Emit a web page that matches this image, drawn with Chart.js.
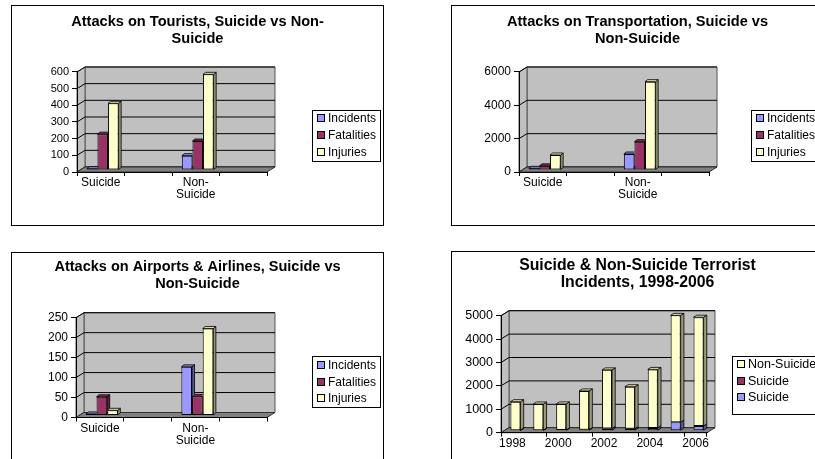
<!DOCTYPE html>
<html>
<head>
<meta charset="utf-8">
<script src="https://cdn.jsdelivr.net/npm/chart.js@4.4.1/dist/chart.umd.min.js"></script>
<style>
  html, body { margin: 0; padding: 0; background: #fff; width: 815px; height: 459px; overflow: hidden; }
  .panel { position: absolute; border: 1px solid #000; width: 371px; height: 219px; background: #fff; }
  .panel canvas { display: block; }
</style>
</head>
<body>
<div class="panel" style="left:11px;top:5px"><canvas id="tourists" width="371" height="219"></canvas></div>
<div class="panel" style="left:451px;top:5px"><canvas id="transport" width="371" height="219"></canvas></div>
<div class="panel" style="left:11px;top:252px"><canvas id="airports" width="371" height="219"></canvas></div>
<div class="panel" style="left:451px;top:251px"><canvas id="yearly" width="371" height="219"></canvas></div>
<script>
// ---- data ----
const pairCategories = ['Suicide', '', ['Non-', 'Suicide'], ''];
const seriesNames = ['Incidents', 'Fatalities', 'Injuries'];

const touristIncidents  = [8, null, 86, null];
const touristFatalities = [215, null, 174, null];
const touristInjuries   = [400, null, 574, null];

const transportIncidents  = [100, null, 960, null];
const transportFatalities = [250, null, 1700, null];
const transportInjuries   = [900, null, 5300, null];

const airportIncidents  = [4, null, 122, null];
const airportFatalities = [47, null, 48, null];
const airportInjuries   = [13, null, 218, null];

const years = ['1998', '1999', '2000', '2001', '2002', '2003', '2004', '2005', '2006'];
const yearSeriesNames = ['Suicide', 'Suicide', 'Non-Suicide'];
const suicideIncidents    = [15, 15, 25, 40, 90, 80, 120, 360, 200];
const suicideIncidentsAlt = [0, 0, 0, 0, 0, 0, 0, 0, 0];
const nonSuicideIncidents = [1225, 1125, 1120, 1660, 2510, 1800, 2500, 4570, 4650];

// ---- styling ----
const FONT = '"Liberation Sans", Arial, Helvetica, sans-serif';
const BLUE = '#9999FF', MAROON = '#993366', CREAM = '#FFFFCC';
Chart.defaults.font.family = FONT;
Chart.defaults.color = '#000';

function shade(hex, f) {
  const n = parseInt(hex.slice(1), 16);
  const r = Math.round(((n >> 16) & 255) * f);
  const g = Math.round(((n >> 8) & 255) * f);
  const b = Math.round((n & 255) * f);
  return 'rgb(' + r + ',' + g + ',' + b + ')';
}

function poly(ctx, pts) {
  ctx.beginPath();
  ctx.moveTo(pts[0][0], pts[0][1]);
  for (let i = 1; i < pts.length; i++) ctx.lineTo(pts[i][0], pts[i][1]);
  ctx.closePath();
}

// Walls, floor, bar depth faces and a boxed legend for a 3-D column look.
const box3d = {
  id: 'box3d',
  beforeDraw(chart, args, o) {
    const ctx = chart.ctx, a = chart.chartArea, ys = chart.scales.y;
    const dx = o.wall[0], dy = o.wall[1];
    ctx.save();
    ctx.lineWidth = 1;
    ctx.fillStyle = '#C0C0C0';
    ctx.strokeStyle = '#555';
    poly(ctx, [[a.left + dx, a.top + dy], [a.right + dx, a.top + dy], [a.right + dx, a.bottom + dy], [a.left + dx, a.bottom + dy]]);
    ctx.fill(); ctx.stroke();
    poly(ctx, [[a.left, a.top], [a.left + dx, a.top + dy], [a.left + dx, a.bottom + dy], [a.left, a.bottom]]);
    ctx.fill(); ctx.stroke();
    ctx.strokeStyle = '#000';
    ys.ticks.forEach(t => {
      const y = ys.getPixelForValue(t.value);
      ctx.beginPath();
      ctx.moveTo(a.left, y);
      ctx.lineTo(a.left + dx, y + dy);
      ctx.lineTo(a.right + dx, y + dy);
      ctx.stroke();
    });
    ctx.fillStyle = '#808080';
    ctx.strokeStyle = '#333';
    poly(ctx, [[a.left, a.bottom], [a.right, a.bottom], [a.right + dx, a.bottom + dy], [a.left + dx, a.bottom + dy]]);
    ctx.fill(); ctx.stroke();
    ctx.restore();
  },
  beforeDatasetsDraw(chart, args, o) {
    chart.ctx.save();
    chart.ctx.translate(o.shift[0], o.shift[1]);
  },
  afterDatasetDraw(chart, args, o) {
    const ctx = chart.ctx;
    const metas = chart.getSortedVisibleDatasetMetas();
    const pos = metas.indexOf(args.meta);
    const bx = o.depth[0], by = o.depth[1], slope = by / bx;
    const ds = chart.data.datasets[args.index];
    const col = ds.backgroundColor;
    args.meta.data.forEach((bar, i) => {
      const v = ds.data[i];
      if (v === null || v === undefined || v === 0) return;
      const p = bar.getProps(['x', 'y', 'base', 'width'], true);
      const L = p.x - p.width / 2, R = p.x + p.width / 2;
      const top = Math.min(p.y, p.base), bot = Math.max(p.y, p.base);
      let isTop = true;
      ctx.save();
      ctx.lineWidth = 0.8;
      ctx.strokeStyle = '#000';
      if (o.stacked) {
        isTop = !metas.slice(pos + 1).some(m => chart.data.datasets[m.index].data[i] > 0);
      } else if (metas[pos + 1]) {
        const next = metas[pos + 1];
        const nv = chart.data.datasets[next.index].data[i];
        if (nv) {
          const nb = next.data[i].getProps(['y', 'base'], true);
          const yN = Math.min(nb.y, nb.base);
          const Rn = R + bx + 3;
          ctx.beginPath();
          ctx.moveTo(-10, -10);
          ctx.lineTo(Rn, -10);
          ctx.lineTo(Rn, yN + (Rn - R) * slope);
          ctx.lineTo(R, yN);
          ctx.lineTo(R, chart.height + 10);
          ctx.lineTo(-10, chart.height + 10);
          ctx.closePath();
          ctx.clip();
        }
      }
      ctx.fillStyle = shade(col, 0.6);
      poly(ctx, [[R, top], [R + bx, top + by], [R + bx, bot + by], [R, bot]]);
      ctx.fill(); ctx.stroke();
      if (isTop) {
        ctx.fillStyle = shade(col, 0.88);
        poly(ctx, [[L, top], [R, top], [R + bx, top + by], [L + bx, top + by]]);
        ctx.fill(); ctx.stroke();
      }
      ctx.restore();
    });
  },
  afterDatasetsDraw(chart) {
    chart.ctx.restore();
  },
  afterDraw(chart, args, o) {
    const lg = o.legend, ctx = chart.ctx;
    let sets = chart.data.datasets.slice();
    if (lg.reverse) sets.reverse();
    ctx.save();
    ctx.fillStyle = '#fff';
    ctx.fillRect(lg.x, lg.y, lg.w, lg.h);
    ctx.strokeStyle = '#000';
    ctx.lineWidth = 1;
    ctx.strokeRect(lg.x + 0.5, lg.y + 0.5, lg.w, lg.h);
    ctx.font = lg.size + 'px ' + FONT;
    ctx.textBaseline = 'middle';
    ctx.textAlign = 'left';
    sets.forEach((d, k) => {
      const cy = Math.round(lg.rows[k]);
      ctx.fillStyle = d.backgroundColor;
      ctx.fillRect(lg.x + 5, cy - 4, 8, 8);
      ctx.strokeRect(lg.x + 5.5, cy - 3.5, 7, 7);
      ctx.fillStyle = '#000';
      ctx.fillText(d.label, lg.x + 16, cy + 0.5);
    });
    ctx.restore();
  }
};

function makeChart(id, cfg) {
  return new Chart(document.getElementById(id), {
    type: 'bar',
    data: { labels: cfg.labels, datasets: cfg.datasets },
    options: {
      responsive: false,
      animation: false,
      devicePixelRatio: 1,
      events: [],
      layout: { padding: 0 },
      datasets: { bar: { categoryPercentage: cfg.catPct, barPercentage: 1, borderWidth: 1, borderColor: '#000', borderSkipped: false, clip: false } },
      plugins: {
        legend: { display: false },
        tooltip: { enabled: false },
        title: {
          display: true,
          text: cfg.title,
          color: '#000',
          font: { family: FONT, size: cfg.titleSize, weight: 'bold', lineHeight: cfg.titleLH },
          padding: { top: cfg.titlePad[0], bottom: cfg.titlePad[1] }
        },
        box3d: { wall: [8, -5], shift: cfg.shift, depth: cfg.depth, stacked: !!cfg.stacked, legend: cfg.legend }
      },
      scales: {
        x: {
          stacked: !!cfg.stacked,
          offset: true,
          grid: { display: true, offset: true, drawOnChartArea: false, drawTicks: true, tickLength: 4, color: cfg.xTickColor || '#000', lineWidth: 1 },
          border: { display: true, color: '#000', width: 1 },
          ticks: {
            autoSkip: false, maxRotation: 0, minRotation: 0, padding: 1, color: '#000',
            font: { family: FONT, size: 12, lineHeight: 1 },
            callback: cfg.xCallback || function (v) { return this.getLabelForValue(v); }
          },
          afterFit: s => { s.height = cfg.xHeight; }
        },
        y: {
          stacked: !!cfg.stacked,
          min: 0, max: cfg.max,
          grid: { display: true, drawOnChartArea: false, drawTicks: true, tickLength: 5, color: '#000' },
          border: { display: true, color: '#000', width: 1 },
          ticks: { stepSize: cfg.step, padding: 3, color: '#000', font: { family: FONT, size: cfg.ySize }, callback: v => String(v) },
          afterFit: s => { s.width = cfg.left; }
        },
        pad: {
          type: 'linear', position: 'right', display: true,
          grid: { display: false }, ticks: { display: false }, border: { display: false },
          afterFit: s => { s.width = cfg.padRight; }
        }
      }
    },
    plugins: [box3d]
  });
}

function pairSets(a, b, c) {
  return [
    { label: seriesNames[0], data: a, backgroundColor: BLUE, yAxisID: 'y' },
    { label: seriesNames[1], data: b, backgroundColor: MAROON, yAxisID: 'y' },
    { label: seriesNames[2], data: c, backgroundColor: CREAM, yAxisID: 'y' }
  ];
}

makeChart('tourists', {
  labels: pairCategories,
  datasets: pairSets(touristIncidents, touristFatalities, touristInjuries),
  title: ['Attacks on Tourists, Suicide vs Non-', 'Suicide'],
  titleSize: 14.6, titleLH: 1.205, titlePad: [6.9, 23.9],
  left: 65, padRight: 116, xHeight: 53,
  max: 600, step: 100, ySize: 11,
  catPct: 0.67, shift: [2, -2], depth: [2.5, -2],
  legend: { x: 300, y: 104, w: 68, h: 51, rows: [112.3, 129, 146.3], size: 12 }
});

makeChart('transport', {
  labels: pairCategories,
  datasets: pairSets(transportIncidents, transportFatalities, transportInjuries),
  title: ['Attacks on Transportation, Suicide vs', 'Non-Suicide'],
  titleSize: 14.6, titleLH: 1.205, titlePad: [6.9, 23.9],
  left: 67, padRight: 114, xHeight: 53,
  max: 6000, step: 1000, ySize: 12,
  catPct: 0.67, shift: [2, -2], depth: [2.5, -2],
  legend: { x: 299, y: 104, w: 68, h: 51, rows: [112.3, 129, 146.3], size: 12 }
});

makeChart('airports', {
  labels: pairCategories,
  datasets: pairSets(airportIncidents, airportFatalities, airportInjuries),
  title: ['Attacks on Airports & Airlines, Suicide vs', 'Non-Suicide'],
  titleSize: 14.5, titleLH: 1.152, titlePad: [5.95, 25.35],
  left: 64, padRight: 116, xHeight: 54.5,
  max: 250, step: 50, ySize: 12,
  catPct: 0.67, shift: [2, -2], depth: [2.5, -2],
  legend: { x: 300, y: 103, w: 68, h: 51, rows: [112, 128.7, 145.3], size: 12 }
});

makeChart('yearly', {
  labels: years,
  datasets: [
    { label: yearSeriesNames[0], data: suicideIncidents, backgroundColor: BLUE, yAxisID: 'y' },
    { label: yearSeriesNames[1], data: suicideIncidentsAlt, backgroundColor: MAROON, yAxisID: 'y' },
    { label: yearSeriesNames[2], data: nonSuicideIncidents, backgroundColor: CREAM, yAxisID: 'y' }
  ],
  stacked: true,
  title: ['Suicide & Non-Suicide Terrorist', 'Incidents, 1998-2006'],
  titleSize: 15.8, titleLH: 1.057, titlePad: [5.65, 24.65],
  left: 49, padRight: 116, xHeight: 38.3,
  max: 5000, step: 1000, ySize: 12.5,
  catPct: 0.44, shift: [3, -2], depth: [3.2, -2],
  xCallback: function (v, i) { return i % 2 === 0 ? this.getLabelForValue(v) : ''; },
  xTickColor: c => (c.index === undefined || c.index % 2 === 0) ? '#000' : 'rgba(0,0,0,0)',
  legend: { x: 280, y: 104, w: 88, h: 58, rows: [112.3, 128.7, 145.3], size: 12.5, reverse: true }
});
</script>
</body>
</html>
